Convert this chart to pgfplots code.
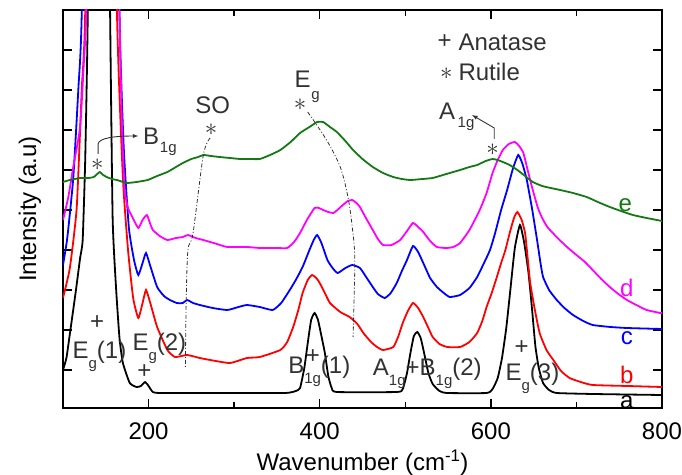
\documentclass[border=0pt]{standalone}
\usepackage{fontspec}
\setmainfont{Liberation Sans}
\usepackage{pgfplots}
\pgfplotsset{compat=1.18}
\definecolor{cgreen}{RGB}{20,120,20}
\definecolor{cmag}{RGB}{255,0,255}
\definecolor{cred}{RGB}{255,0,0}
\definecolor{cblue}{RGB}{0,0,255}
\definecolor{anno}{RGB}{50,50,50}
\newcommand{\sub}[1]{\raisebox{-0.45em}{\fontsize{15}{15}\selectfont #1}}
\newcommand{\st}{{\fontsize{25}{25}\selectfont$\ast$}}
\begin{document}
\begin{tikzpicture}[font=\fontsize{24}{28}\selectfont]
\begin{axis}[
  at={(0,0)}, anchor=south west,
  scale only axis, width=599pt, height=398pt,
  xmin=100, xmax=800, ymin=0, ymax=398,
  xtick={200,400,600,800}, minor xtick={300,500,700},
  ytick={38,78,...,358}, yticklabels={},
  xtick pos=both, ytick pos=both,
  tick align=inside, major tick length=9pt, minor tick length=6pt,
  every tick/.style={black, line width=1.3pt},
  axis line style={line width=1.5pt},
  /pgf/number format/assume math mode=true,
  xticklabel style={anchor=base, yshift=-31pt, font=\fontsize{24}{28}\selectfont},
  xlabel={Wavenumber (cm\textsuperscript{-1})},
  xlabel style={at={(axis description cs:0.5,-0.156)}, anchor=base},
  ylabel={Intensity (a.u)},
  ylabel style={at={(axis description cs:-0.045,0.5)}, anchor=base, rotate=0},
  clip=true,
]
% a (black)
\addplot[black, line width=1.8pt, smooth, tension=0.3] coordinates {
(100,38) (104,50) (108,74) (115,117) (120,150) (123,168) (126,250) (129,398) (133,800) (142,1500) (150,800) (155,398) (158,190) (162,120) (166,70) (170,45) (178,25) (186,21) (191,22) (196,26) (200,22) (205,16) (215,15) (300,15) (360,15) (372,17) (377,20) (382,40) (386,65) (390,88) (394,95) (398,88) (402,72) (406,55) (410,32) (414,20) (420,16) (490,16) (497,19) (502,35) (506,55) (510,72) (514,76) (518,70) (522,55) (527,35) (532,24) (540,17) (549,15) (595,15) (602,19) (608,30) (613,50) (618,80) (623,120) (628,160) (634,183) (639,165) (644,135) (648,100) (652,62) (656,40) (661,25) (668,18) (677,15) (720,14) (800,13)
};
% b (red)
\addplot[cred, line width=1.8pt, smooth, tension=0.3] coordinates {
(100,110) (108,140) (116,200) (122,320) (126,398) (135,900) (146,1300) (155,900) (163,398) (170,230) (176,158) (182,110) (188,90) (193,105) (197,118) (202,105) (210,81) (222,58) (231,51) (245,53) (260,50) (272,48) (295,45) (315,50) (330,51) (354,58) (362,66) (369,81) (375,98) (380,115) (386,128) (391,133) (396,130) (400,125) (406,115) (412,105) (424,96) (435,91) (444,84) (451,75) (460,66) (467,61) (474,58) (486,61) (492,72) (497,85) (503,97) (509,105) (515,100) (521,91) (527,80) (532,71) (540,64) (549,61) (564,61) (575,66) (584,75) (590,87) (595,101) (601,115) (607,131) (612,145) (617,158) (622,175) (627,190) (631,196) (636,188) (640,175) (643,150) (646,125) (651,100) (657,75) (665,58) (673,48) (682,37) (692,30) (705,26) (719,23) (760,22) (800,21)
};
% c (blue)
\addplot[cblue, line width=1.8pt, smooth, tension=0.3] coordinates {
(100,143) (105,170) (112,230) (118,320) (122,398) (132,900) (148,1300) (160,900) (166,398) (171,260) (177,180) (183,148) (188,133) (193,145) (197,155) (202,142) (210,121) (218,112) (225,108) (233,105) (240,105) (245,108) (252,105) (260,103) (275,100) (292,98) (305,101) (315,103) (330,101) (345,98) (355,105) (365,118) (372,128) (380,141) (388,158) (393,168) (397,173) (402,165) (409,148) (415,140) (421,135) (430,140) (438,143) (447,140) (455,130) (462,121) (468,114) (476,110) (483,115) (490,125) (496,137) (502,148) (509,162) (515,156) (521,145) (529,130) (537,121) (545,115) (552,111) (564,113) (575,120) (584,131) (592,145) (599,158) (605,175) (612,198) (619,218) (626,240) (632,253) (637,244) (642,228) (648,200) (654,168) (658,145) (661,131) (668,118) (677,108) (686,100) (696,93) (708,87) (719,83) (740,81) (759,80) (800,79)
};
% d (magenta)
\addplot[cmag, line width=1.8pt, smooth, tension=0.3] coordinates {
(100,188) (106,210) (112,241) (120,281) (124,340) (128,420) (137,900) (148,1200) (160,800) (166,398) (169,280) (172,218) (176,200) (181,191) (188,180) (193,188) (198,193) (202,184) (205,178) (213,172) (222,168) (232,170) (240,171) (246,173) (255,170) (264,168) (280,164) (292,161) (315,161) (330,160) (350,160) (362,160) (370,166) (377,175) (385,188) (394,200) (399,200) (404,198) (410,196) (416,195) (422,199) (427,203) (433,207) (438,208) (443,205) (447,201) (454,190) (462,178) (468,169) (474,163) (484,163) (494,168) (502,177) (509,185) (515,181) (521,176) (529,167) (537,161) (548,160) (556,161) (564,165) (575,178) (587,198) (595,215) (602,235) (608,248) (614,258) (621,264) (628,266) (633,262) (638,255) (643,238) (649,218) (655,200) (660,190) (666,181) (678,170) (689,161) (700,153) (710,146) (719,138) (729,129) (739,121) (749,114) (759,108) (770,103) (782,98) (798,95) (800,95)
};
% e (green)
\addplot[cgreen, line width=1.8pt, smooth, tension=0.3] coordinates {
(100,226) (108,228) (120,230) (130,230) (136,231) (140,234) (143,236) (147,233) (151,231) (157,229) (163,228) (170,226) (175,225) (186,226) (199,228) (210,232) (222,236) (232,241) (240,245) (250,249) (258,251) (264,253) (273,252) (283,251) (295,250) (307,249) (318,249) (330,249) (342,253) (354,258) (366,266) (377,275) (388,281) (397,286) (404,286) (412,281) (420,276) (430,267) (439,258) (450,249) (462,241) (474,235) (486,231) (496,229) (506,228) (520,229) (532,230) (548,234) (564,238) (575,241) (584,243) (594,247) (602,249) (608,248) (614,246) (622,243) (631,238) (640,232) (649,226) (660,222) (670,220) (681,218) (696,215) (712,211) (725,206) (739,201) (752,197) (766,193) (782,190) (800,187)
};

% curve letters
\node[cgreen] at (axis cs:757,203) {e};
\node[cmag] at (axis cs:759,120) {d};
\node[cblue] at (axis cs:759,70) {c};
\node[cred] at (axis cs:759,33) {b};
\node[black] at (axis cs:759,6) {a};

% legend
\node[anno, inner sep=0] at (axis cs:546,366) {+};
\node[anno, inner sep=0, anchor=west] at (axis cs:562,366) {Anatase};
\node[anno, inner sep=0] at (axis cs:548,334) {\st};
\node[anno, inner sep=0, anchor=west] at (axis cs:562,336) {Rutile};

% dash-dot guides
\draw[anno, line width=0.8pt, dash pattern=on 4pt off 2pt on 1pt off 2pt]
  plot[smooth] coordinates {(272,270) (264,253) (252,175) (246,158) (244,108) (243,41)};
\draw[anno, line width=0.8pt, dash pattern=on 4pt off 2pt on 1pt off 2pt]
  plot[smooth] coordinates {(386,296) (408,268) (424,241) (433,211) (438,181) (441,148) (439,71)};

% rutile labels
\node[anno, inner sep=0] at (axis cs:275,303) {SO};
\node[anno, inner sep=0] at (axis cs:273,278) {\st};
\node[anno, inner sep=0] at (axis cs:380,329) {E};
\node[anno, inner sep=0] at (axis cs:395,311) {\fontsize{15}{15}\selectfont g};
\node[anno, inner sep=0] at (axis cs:377,303) {\st};
\node[anno, inner sep=0] at (axis cs:203,272) {B};
\node[anno, inner sep=0] at (axis cs:223,259) {\fontsize{15}{15}\selectfont 1g};
\node[anno, inner sep=0] at (axis cs:140,243) {\st};
\draw[anno, line width=0.9pt, -latex] (axis cs:141,254) -- (axis cs:141,264) .. controls (axis cs:142,270) and (axis cs:160,272) .. (axis cs:188,272);
\node[anno, inner sep=0] at (axis cs:549,297) {A};
\node[anno, inner sep=0] at (axis cs:571,284) {\fontsize{15}{15}\selectfont 1g};
\node[anno, inner sep=0] at (axis cs:602,258) {\st};
\draw[anno, line width=0.9pt, -latex] (axis cs:604,269) -- (axis cs:604,280) -- (axis cs:578,293);

% anatase labels
\node[anno, inner sep=0] at (axis cs:140,85) {+};
\node[anno, inner sep=0, anchor=base west] at (axis cs:111,50) {E\sub{g}(1)};
\node[anno, inner sep=0, anchor=base west] at (axis cs:181,58) {E\sub{g}(2)};
\node[anno, inner sep=0] at (axis cs:195,36) {+};
\node[anno, inner sep=0, anchor=base west] at (axis cs:363,35) {B\sub{1g}(1)};
\node[anno, inner sep=0] at (axis cs:392,51) {+};
\node[anno, inner sep=0, anchor=base west] at (axis cs:462,33) {A\sub{1g}+B\sub{1g}(2)};
\node[anno, inner sep=0, anchor=base west] at (axis cs:617,28) {E\sub{g}(3)};
\node[anno, inner sep=0] at (axis cs:636,60) {+};
\end{axis}
\pgfresetboundingbox
\path (-63pt,-66pt) rectangle (619pt,408pt);
\end{tikzpicture}
\end{document}
